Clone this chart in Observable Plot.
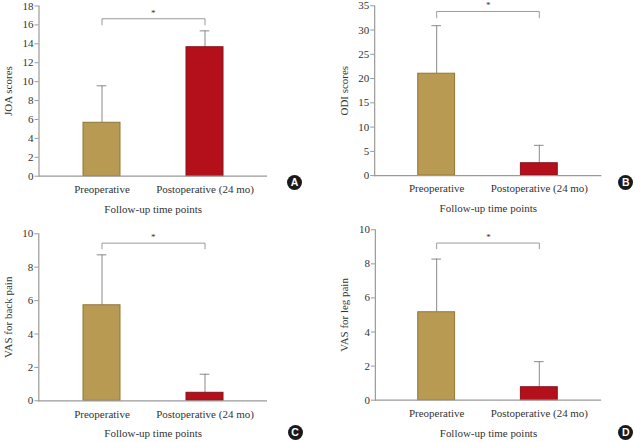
<!DOCTYPE html>
<html><head><meta charset="utf-8">
<script src="https://cdn.jsdelivr.net/npm/d3@7"></script>
<script src="https://cdn.jsdelivr.net/npm/@observablehq/plot@0.6"></script>
<style>
body{margin:0;background:#fff;}
#wrap{position:relative;width:635px;height:442px;overflow:hidden;background:#fff;font-family:"Liberation Serif",serif;}
.panel{position:absolute;}
.badge{position:absolute;width:15px;height:15px;border-radius:50%;background:#1a1a1a;color:#fff;font:bold 10.5px "Liberation Sans",Arial,sans-serif;text-align:center;line-height:15px;}
</style></head><body><div id="wrap"></div>
<script>
const categories = ["Preoperative", "Postoperative (24 mo)"];
const joaMean = [5.65, 13.64];
const joaSD = [3.91, 1.73];
const odiMean = [21.0, 2.55];
const odiSD = [9.9, 3.69];
const vasBackMean = [5.72, 0.48];
const vasBackSD = [3.02, 1.11];
const vasLegMean = [5.16, 0.76];
const vasLegSD = [3.12, 1.5];
const yLabels = ["JOA scores", "ODI scores", "VAS for back pain", "VAS for leg pain"];
const xLabel = "Follow-up time points";
const panelLetters = ["A", "B", "C", "D"];
const yMax = [18, 35, 10, 10];
const yTickStep = [2, 5, 2, 2];
const bracketTop = [16.65, 33.83, 9.44, 9.22];
const bracketEnd = [16.01, 32.53, 9.1, 8.89];
const sigMark = "*";

const barFill = ["#b89a52", "#b3101b"];
const barEdge = ["#8f7536", "#86121a"];
const axisGray = "#9a9a9a";
const errGray = "#8a8a8a";
const serif = "Liberation Serif";

const layout = [
  {left: 0,   top: 0,   width: 300, height: 220, mt: 5.5,  mb: 44.3, ml: 38.5, mr: 33,   bx: 294.5, by: 182.8},
  {left: 336, top: 0,   width: 300, height: 220, mt: 5.3,  mb: 44.3, ml: 38.3, mr: 33.7, bx: 625.7, by: 182.7},
  {left: 0,   top: 220, width: 300, height: 222, mt: 13.3, mb: 41.7, ml: 38.3, mr: 33,   bx: 295,   by: 432},
  {left: 336, top: 220, width: 300, height: 222, mt: 9.3,  mb: 41.7, ml: 39,   mr: 34,   bx: 625.7, by: 432}
];

const series = [[joaMean, joaSD], [odiMean, odiSD], [vasBackMean, vasBackSD], [vasLegMean, vasLegSD]];
const wrap = document.getElementById("wrap");

series.forEach(([means, sds], i) => {
  const L = layout[i];
  const rows = categories.map((c, j) => ({cat: c, mean: means[j], hi: means[j] + sds[j], k: j}));
  const bracket = [
    {cat: categories[0], y: bracketEnd[i]},
    {cat: categories[0], y: bracketTop[i]},
    {cat: categories[1], y: bracketTop[i]},
    {cat: categories[1], y: bracketEnd[i]}
  ];
  const ticks = d3.range(0, yMax[i] + yTickStep[i] / 2, yTickStep[i]);
  const chart = Plot.plot({
    width: L.width, height: L.height,
    marginTop: L.mt, marginBottom: L.mb, marginLeft: L.ml, marginRight: L.mr,
    style: {fontSize: "11px", color: "#333", background: "transparent", overflow: "visible"},
    x: {domain: categories, paddingInner: 0.64, paddingOuter: 0.42},
    y: {domain: [0, yMax[i]]},
    marks: [
      Plot.ruleX(rows, {x: "cat", y1: "mean", y2: "hi", stroke: errGray, strokeWidth: 1}),
      Plot.tickY(rows, {x: "cat", y: "hi", stroke: errGray, strokeWidth: 1, insetLeft: 13.7, insetRight: 13.7}),
      ...categories.map((c, j) => Plot.barY(rows.filter(r => r.k === j), {x: "cat", y: "mean", fill: barFill[j], stroke: barEdge[j], strokeWidth: 1})),
      Plot.ruleY([0], {stroke: axisGray, strokeWidth: 1.2}),
      Plot.frame({anchor: "left", stroke: axisGray, strokeWidth: 1.2}),
      Plot.axisY({ticks, tickSize: 4, tickPadding: 1.5, stroke: axisGray, label: yLabels[i], labelAnchor: "center", labelOffset: 35, labelArrow: "none"}),
      Plot.axisX({tickSize: 0, tickPadding: 9, label: xLabel, labelAnchor: "center", labelOffset: 36.5, labelArrow: "none"}),
      Plot.line(bracket, {x: "cat", y: "y", stroke: axisGray, strokeWidth: 1}),
      Plot.text([bracketTop[i]], {y: d => d, text: () => sigMark, dy: -6, fontSize: 9})
    ]
  });
  chart.querySelectorAll("text").forEach(t => t.setAttribute("font-family", serif));
  chart.style.fontFamily = serif;
  const div = document.createElement("div");
  div.className = "panel";
  div.style.left = L.left + "px";
  div.style.top = L.top + "px";
  div.appendChild(chart);
  wrap.appendChild(div);
  const b = document.createElement("div");
  b.className = "badge";
  b.textContent = panelLetters[i];
  b.style.left = (L.bx - 7.5) + "px";
  b.style.top = (L.by - 7.5) + "px";
  wrap.appendChild(b);
});
</script>
</body></html>
